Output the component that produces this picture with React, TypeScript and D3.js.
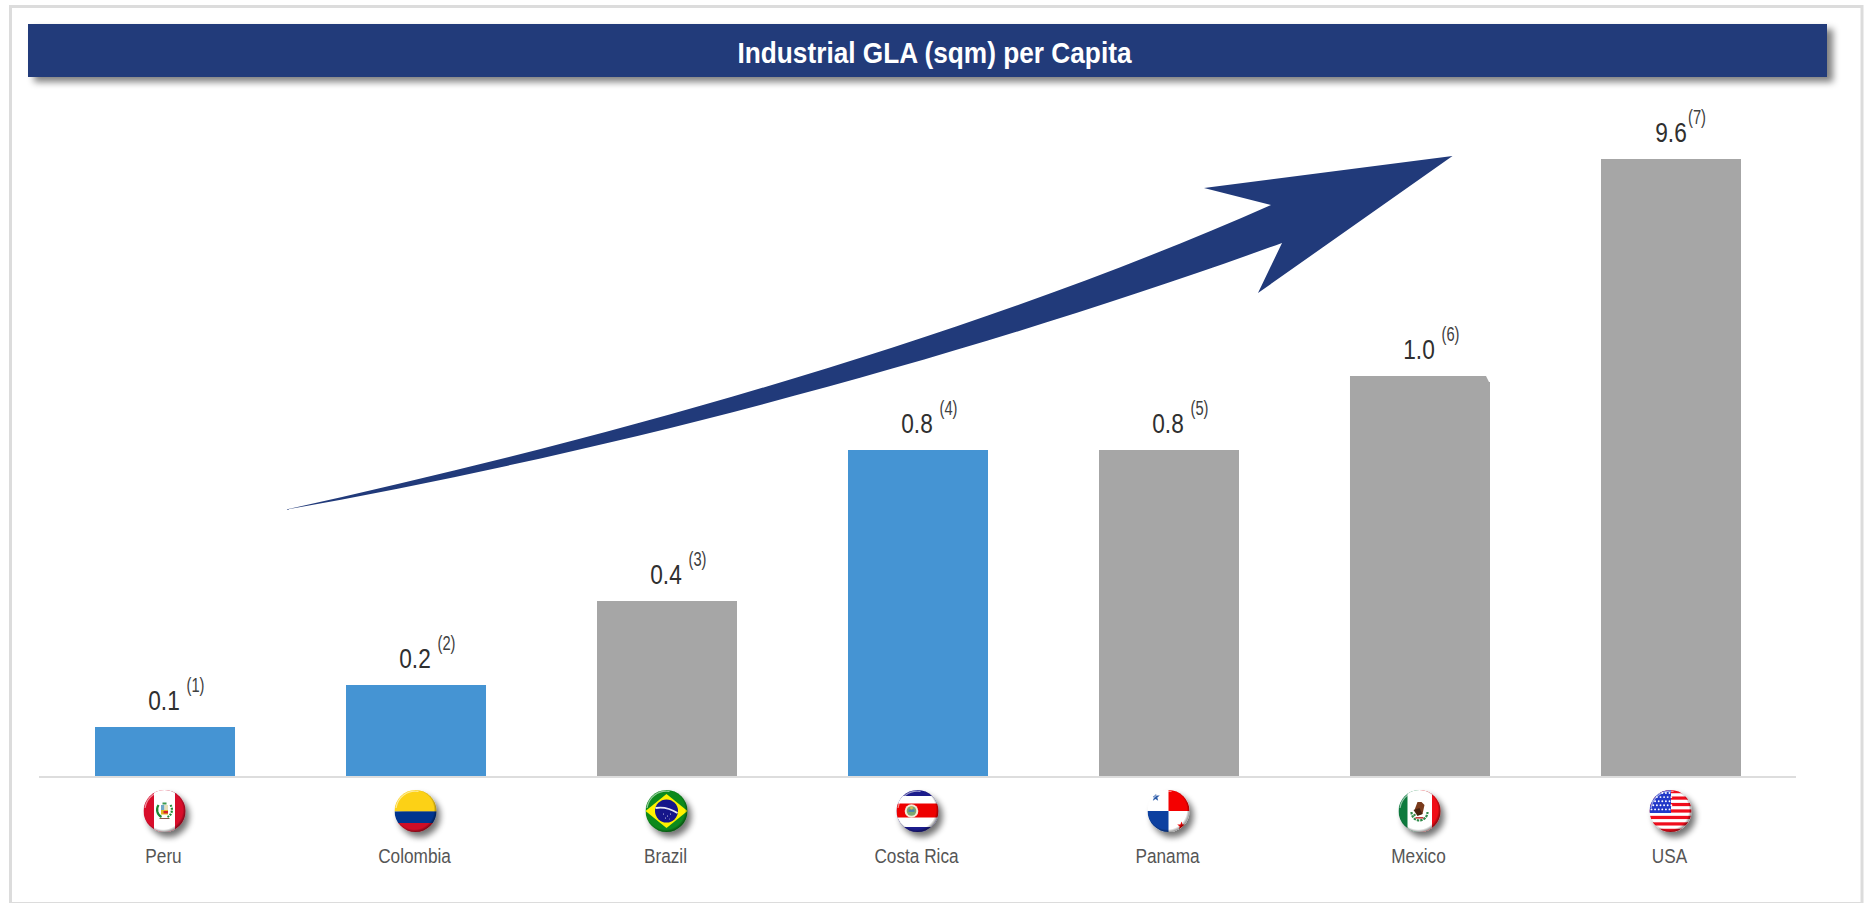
import React from "react";
import * as d3 from "d3";

// Industrial GLA (sqm) per capita by country
const categories = ["Peru", "Colombia", "Brazil", "Costa Rica", "Panama", "Mexico", "USA"];
const values = [0.1, 0.2, 0.4, 0.8, 0.8, 1.0, 9.6];
const footnotes = ["(1)", "(2)", "(3)", "(4)", "(5)", "(6)", "(7)"];
const highlighted = [true, true, false, true, false, false, false];
const chartTitle = "Industrial GLA (sqm) per Capita";

const WIDTH = 1867;
const HEIGHT = 903;
const NAVY = "#213A7A";
const BLUE = "#4594D3";
const GREY = "#A6A6A6";
const FONT = "'Liberation Sans', Arial, sans-serif";

const x = d3.scaleBand<string>().domain(categories).range([95, 1741]).paddingInner(0.4422).paddingOuter(0);
// The axis is deliberately non-linear: the USA bar would dwarf the others,
// so the scale is broken into segments at each reported level.
const y = d3
  .scaleLinear()
  .domain([0, 0.1, 0.2, 0.4, 0.8, 1.0, 9.6])
  .range([776, 727, 685, 601, 450, 376, 159]);

// Curved growth arrow: one smooth edge up to the head, one back down to the tail.
const arrow = d3.path();
arrow.moveTo(284, 510);
arrow.bezierCurveTo(650, 430, 1000, 325, 1271, 205);
arrow.lineTo(1204, 188);
arrow.lineTo(1452.5, 156);
arrow.lineTo(1258, 293);
arrow.lineTo(1282, 243);
arrow.bezierCurveTo(1000, 345, 650, 445, 284, 510);
arrow.closePath();

const R = 21;

function star(cx: number, cy: number, r: number) {
  const pts = d3.range(10).map((i) => {
    const a = -Math.PI / 2 + (i * Math.PI) / 5;
    const rr = i % 2 ? r * 0.42 : r;
    return `${(cx + rr * Math.cos(a)).toFixed(2)},${(cy + rr * Math.sin(a)).toFixed(2)}`;
  });
  return <polygon points={pts.join(" ")} />;
}

const Peru = () => (
  <g>
    <rect x={-R} y={-R} width={2 * R} height={2 * R} fill="#D8082A" />
    <rect x={-10.5} y={-R} width={21} height={2 * R} fill="#FFFFFF" />
    <path d="M-6,-6 A7.5,8 0 0 0 -3,6" fill="none" stroke="#1E8A35" strokeWidth={2.2} />
    <path d="M6,-6 A7.5,8 0 0 1 3,6" fill="none" stroke="#1E8A35" strokeWidth={2.2} strokeDasharray="2 1" />
    <rect x={-3.5} y={-6} width={3.5} height={5} fill="#6FA8C8" />
    <rect x={0} y={-6} width={3.5} height={5} fill="#E8E0B8" />
    <rect x={-3.5} y={-1} width={7} height={4.5} fill="#E2B820" />
    <rect x={-1} y={0} width={4.5} height={2.4} fill="#D8202A" />
    <rect x={-2} y={-8.5} width={4} height={2} fill="#3A9A50" />
    <path d="M-5,7.5 L5,7.5" stroke="#8A5A4A" strokeWidth={1.2} />
  </g>
);

const Colombia = () => (
  <g>
    <rect x={-R} y={-R} width={2 * R} height={R + 0.5} fill="#FCD116" />
    <rect x={-R} y={0.5} width={2 * R} height={11.5} fill="#00358F" />
    <rect x={-R} y={12} width={2 * R} height={9} fill="#CE1126" />
  </g>
);

const Brazil = () => (
  <g>
    <rect x={-R} y={-R} width={2 * R} height={2 * R} fill="#0E8A1E" />
    <polygon points={`${-R},0 0,${-17} ${R},0 0,${17}`} fill="#FFF200" />
    <circle r={11.5} fill="#17178A" />
    <path d="M-11,-3 Q0,-5 11,2" fill="none" stroke="#E8E8F4" strokeWidth={1.8} />
    <g fill="#FFFFFF">
      <circle cx={-3} cy={3} r={0.5} />
      <circle cx={1} cy={5} r={0.5} />
      <circle cx={4} cy={3} r={0.5} />
      <circle cx={-1} cy={7} r={0.5} />
      <circle cx={3} cy={8} r={0.4} />
    </g>
  </g>
);

const CostaRica = () => (
  <g>
    <rect x={-R} y={-R} width={2 * R} height={2 * R} fill="#1E1A8C" />
    <rect x={-R} y={-15} width={2 * R} height={31} fill="#FFFFFF" />
    <rect x={-R} y={-7.5} width={2 * R} height={14} fill="#EE0000" />
    <circle cx={-6} cy={0} r={6.8} fill="#F2EAD8" />
    <circle cx={-6} cy={0} r={4.8} fill="#7DA870" />
    <rect x={-9} y={-1.5} width={6} height={2.4} fill="#4C7FB0" />
    <circle cx={-6} cy={-3} r={1.4} fill="#D8B850" />
  </g>
);

const Panama = () => (
  <g>
    <rect x={-R} y={-R} width={2 * R} height={2 * R} fill="#FFFFFF" />
    <rect x={0} y={-R} width={R} height={R} fill="#F40000" />
    <rect x={-R} y={0} width={R} height={R} fill="#0A40A0" />
    <g fill="#2A5AA8">{star(-13, -14, 4.5)}</g>
    <g fill="#F40000">{star(13, 15, 4.5)}</g>
  </g>
);

const Mexico = () => (
  <g>
    <rect x={-R} y={-R} width={R} height={2 * R} fill="#0B7A3E" />
    <rect x={0} y={-R} width={R} height={2 * R} fill="#F00A14" />
    <rect x={-12} y={-R} width={24.5} height={2 * R} fill="#FFFFFF" />
    <path d="M-8,1 A8,8.5 0 0 0 8,1" fill="none" stroke="#2E8A4A" strokeWidth={2.2} strokeDasharray="2.4 1" />
    <path d="M-5,-1 L-2,-9 L2,-9 L5,-6 L3,3 L-1,4 Z" fill="#7A3A1A" />
    <path d="M-6,-1 L0,-3 L3,3 L-2,5 Z" fill="#4A2410" />
    <rect x={-4} y={6} width={8} height={1.6} fill="#C04040" />
    <circle cx={-5} cy={4} r={1.2} fill="#3A8A4A" />
  </g>
);

const USA = () => (
  <g>
    <rect x={-R} y={-R} width={2 * R} height={2 * R} fill="#FFFFFF" />
    {d3.range(7).map((i) => (
      <rect key={i} x={-R} y={-R + i * 6.46} width={2 * R} height={3.23} fill="#F00F1E" />
    ))}
    <rect x={-R} y={-R} width={R + 0.5} height={R + 2} fill="#2438C8" />
    <g fill="#FFFFFF">
      {d3.range(5).map((row) =>
        d3.range(6).map((col) => (
          <circle key={`${row}-${col}`} cx={-19 + col * 3.6 + (row % 2) * 1.8} cy={-18 + row * 4.1} r={0.95} />
        ))
      )}
    </g>
  </g>
);

const flags = [Peru, Colombia, Brazil, CostaRica, Panama, Mexico, USA];

export default function App() {
  const band = x.bandwidth();
  const last = categories.length - 1;
  return (
    <svg
      width={WIDTH}
      height={HEIGHT}
      viewBox={`0 0 ${WIDTH} ${HEIGHT}`}
      style={{ position: "absolute", left: 0, top: 0, display: "block", background: "#FFFFFF" }}
      fontFamily={FONT}
    >
      <defs>
        <filter id="bannerShadow" x="-2%" y="-30%" width="104%" height="170%">
          <feGaussianBlur in="SourceAlpha" stdDeviation="3.5" />
          <feOffset dx="6" dy="5" />
          <feComponentTransfer>
            <feFuncA type="linear" slope="0.5" />
          </feComponentTransfer>
          <feMerge>
            <feMergeNode />
            <feMergeNode in="SourceGraphic" />
          </feMerge>
        </filter>
        <filter id="badgeShadow" x="-40%" y="-40%" width="190%" height="190%">
          <feGaussianBlur in="SourceAlpha" stdDeviation="3" />
          <feOffset dx="3.5" dy="5" />
          <feComponentTransfer>
            <feFuncA type="linear" slope="0.55" />
          </feComponentTransfer>
          <feMerge>
            <feMergeNode />
            <feMergeNode in="SourceGraphic" />
          </feMerge>
        </filter>
        <clipPath id="badgeClip">
          <circle r={R} />
        </clipPath>
        <radialGradient id="badgeEdge" cx="0.47" cy="0.47" r="0.54">
          <stop offset="0.86" stopColor="#000000" stopOpacity="0" />
          <stop offset="1" stopColor="#000000" stopOpacity="0.45" />
        </radialGradient>
      </defs>

      {/* page frame */}
      <rect x={10.5} y={6.5} width={1851.5} height={897} fill="none" stroke="#DCDCDC" strokeWidth={3} />

      {/* title banner */}
      <rect x={28} y={24} width={1799} height={53} fill={NAVY} filter="url(#bannerShadow)" />
      <text
        x={934.5}
        y={62.5}
        textAnchor="middle"
        fill="#FFFFFF"
        fontSize={30}
        fontWeight={700}
        textLength={394}
        lengthAdjust="spacingAndGlyphs"
      >
        {chartTitle}
      </text>

      {/* growth arrow */}
      <path d={arrow.toString()} fill={NAVY} />

      {/* bars */}
      {categories.map((c, i) => (
        <rect
          key={c}
          x={x(c)}
          y={y(values[i])}
          width={band}
          height={y(0) - y(values[i])}
          fill={highlighted[i] ? BLUE : GREY}
        />
      ))}
      {/* clipped top corner of the Mexico bar */}
      <path
        d={`M${x("Mexico")! + band - 4},${y(1)}L${x("Mexico")! + band + 0.5},${y(1)}L${x("Mexico")! + band + 0.5},${y(1) + 6}L${x("Mexico")! + band - 1},${y(1) + 6}Z`}
        fill="#FFFFFF"
      />

      {/* baseline */}
      <line x1={39} x2={1796} y1={777} y2={777} stroke="#DDDDDD" strokeWidth={2} />

      {/* value labels with footnote marks */}
      {categories.map((c, i) => {
        const cx = x(c)! + band / 2;
        const by = y(values[i]) - 17;
        return (
          <g key={c} fill="#2F2F2F">
            <text
              transform={`translate(${cx - (i === last ? 0 : 1)},${by}) scale(0.81,1)`}
              textAnchor="middle"
              fontSize={28}
            >
              {d3.format(".1f")(values[i])}
            </text>
            <text
              transform={`translate(${cx + (i === last ? 17 : 21.5)},${by - 18}) scale(0.7,1)`}
              fontSize={21}
              fill="#404040"
            >
              {footnotes[i]}
            </text>
          </g>
        );
      })}

      {/* flag badges and country names */}
      {categories.map((c, i) => {
        const cx = x(c)! + band / 2;
        const Flag = flags[i];
        return (
          <g key={c}>
            <g transform={`translate(${cx - 0.5},811)`}>
              <g filter="url(#badgeShadow)">
                <g clipPath="url(#badgeClip)">
                  <Flag />
                </g>
              </g>
              <circle r={R} fill="url(#badgeEdge)" />
              <path
                d={`M${-R + 1.5},-3 A${R - 1.5},${R - 1.5} 0 0 1 3,${-R + 1.5}`}
                fill="none"
                stroke="#FFFFFF"
                strokeOpacity={0.55}
                strokeWidth={1.2}
              />
            </g>
            <text
              transform={`translate(${cx - 1.5},863) scale(0.84,1)`}
              textAnchor="middle"
              fontSize={20.5}
              fill="#555555"
            >
              {c}
            </text>
          </g>
        );
      })}
    </svg>
  );
}
